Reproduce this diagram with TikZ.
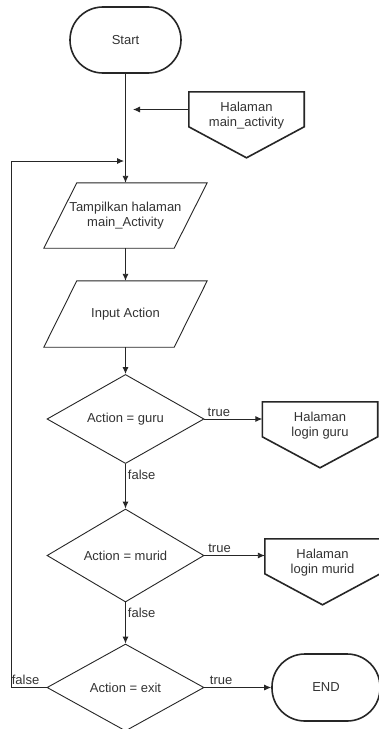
\documentclass[tikz,border=0pt]{standalone}
\usepackage{fontspec}
\setmainfont{Liberation Sans}
\usetikzlibrary{shapes.geometric, arrows.meta}

\tikzset{
  base/.style={font=\fontsize{13}{15}\selectfont, text=black!80, align=center, inner sep=0pt},
  terminal/.style={base, draw=black!85, line width=1.6pt, rectangle, rounded corners=32.9pt, minimum width=111pt, minimum height=66pt},
  decision/.style={base, draw=black!85, line width=0.9pt, diamond, minimum width=157pt, minimum height=88pt},
  iobox/.style={base, minimum width=163pt, minimum height=65pt},
  offpage/.style={base, minimum width=115pt, minimum height=48pt},
  flow/.style={->, line width=0.9pt, draw=black!85},
  lbl/.style={font=\fontsize{13}{15}\selectfont, text=black!80, inner sep=2pt}
}
\newcommand{\slantbox}[1]{\draw[line width=0.9pt, black!85] ([xshift=33pt]#1.north west) -- (#1.north east) -- ([xshift=-33pt]#1.south east) -- (#1.south west) -- cycle;}
\newcommand{\offpagebox}[1]{\draw[line width=1.6pt, black!85] (#1.north west) -- (#1.north east) -- ([yshift=-35pt]#1.north east) -- ([yshift=-66pt]#1.north) -- ([yshift=-35pt]#1.north west) -- cycle;}

\begin{document}
\begin{tikzpicture}[x=1pt, y=-1pt, >={Latex[length=7pt,width=6pt]}]
  \useasboundingbox (0,0) rectangle (379,729);
  \fill[white] (0,0) rectangle (379,729);
  % shapes
  \node[terminal] (start) at (125.5,40) {Start};
  \node[offpage] (hmain) at (246.5,116) {Halaman\\main\_activity};
  \offpagebox{hmain}
  \node[iobox] (show) at (125.5,215.5) {Tampilkan halaman\\main\_Activity};
  \slantbox{show}
  \node[iobox, minimum height=66pt] (input) at (125.5,314) {Input Action};
  \slantbox{input}
  \node[decision] (guru) at (125.5,419) {Action = guru};
  \node[offpage] (hguru) at (320,426) {Halaman\\login guru};
  \offpagebox{hguru}
  \node[decision, minimum height=85pt] (murid) at (125.5,555.5) {Action = murid};
  \node[offpage] (hmurid) at (322.5,563) {Halaman\\login murid};
  \offpagebox{hmurid}
  \node[decision, minimum height=87pt] (exit) at (125.5,687.5) {Action = exit};
  \node[terminal, minimum width=108pt, minimum height=67pt] (end) at (326,687.5) {END};
  % connectors
  \coordinate (inA) at (133,109.5);
  \coordinate (inB) at (124,161);
  \draw[flow] (start) -- (show);
  \draw[flow] (inA -| hmain.west) -- (inA);
  \draw[flow] (show) -- (input);
  \draw[flow] (input) -- (guru);
  \draw[flow] (guru.east) -- node[lbl, near start, above] {true} (guru.east -| hguru.west);
  \draw[flow] (guru.south) -- node[lbl, near start, right] {false} (murid.north);
  \draw[flow] (murid.east) -- node[lbl, near start, above] {true} (murid.east -| hmurid.west);
  \draw[flow] (murid.south) -- node[lbl, near start, right] {false} (exit.north);
  \draw[flow] (exit.east) -- node[lbl, near start, above] {true} (end.west);
  \draw[flow] (exit.west) -- node[lbl, pos=0.6, above] {false} ++(-35,0) |- (inB);
\end{tikzpicture}
\end{document}
